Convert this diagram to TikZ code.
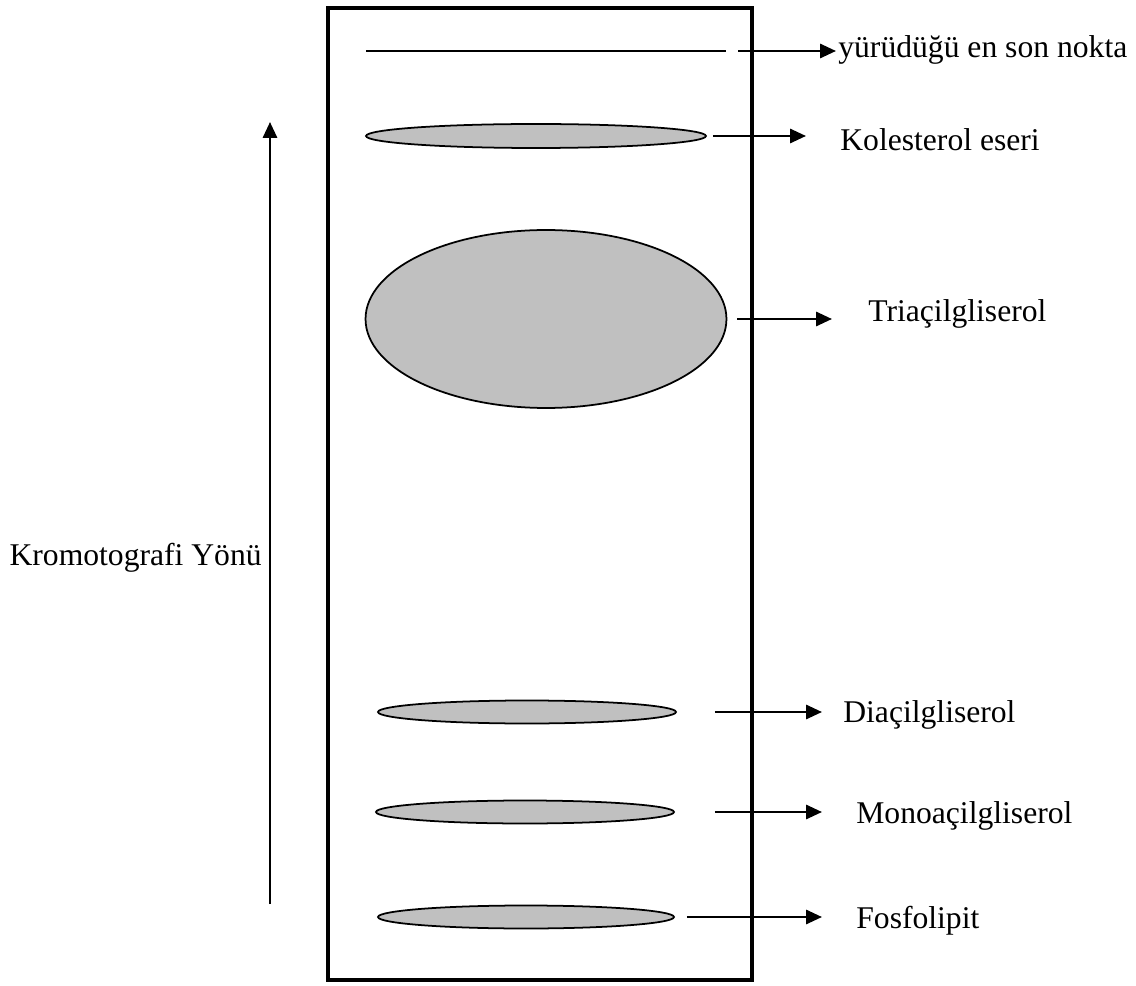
\documentclass[tikz,border=0pt]{standalone}
\usepackage{fontspec}
\setmainfont{Liberation Serif}
\usetikzlibrary{arrows.meta,shapes.geometric}
\definecolor{spotgray}{RGB}{192,192,192}

\begin{document}
\begin{tikzpicture}[
      x=0.02cm,y=-0.02cm,
      >={Triangle[length=9pt,width=8pt]},
      spot/.style={
        draw,ellipse,fill=spotgray,line width=1pt,inner sep=0pt
      },
      lbl/.style={anchor=base west,inner sep=0pt,font=\fontsize{18}{22}\selectfont},
      link/.style={line width=1.4pt,->},
    ]
    \useasboundingbox (0,0) rectangle (1136,986);
    % plate
    \draw[line width=2.1pt] (328,8) rectangle (752,980);
    % solvent front
    \coordinate (fl) at (366,51);
    \coordinate (fr) at (726,51);
    \draw[line width=1.1pt] (fl) -- (fr);
    % spots
    \node[spot,minimum width=6.8cm,minimum height=0.48cm] (kol) at (536,136) {};
    \node[spot,minimum width=7.22cm,minimum height=3.56cm] (tri) at (546,319) {};
    \node[spot,minimum width=5.96cm,minimum height=0.46cm] (dia) at (527,712) {};
    \node[spot,minimum width=5.96cm,minimum height=0.46cm] (mono) at (525,812) {};
    \node[spot,minimum width=5.92cm,minimum height=0.46cm] (fos) at (526,917) {};
    % labels
    \node[lbl] (front) at (838,58) {yürüdüğü en son nokta};
    \node[lbl] (kolt) at (840,151) {Kolesterol eseri};
    \node[lbl] (trit) at (868,322) {Triaçilgliserol};
    \node[lbl] (diat) at (843,722) {Diaçilgliserol};
    \node[lbl] (monot) at (856,823) {Monoaçilgliserol};
    \node[lbl] (fost) at (856,928) {Fosfolipit};
    \node[lbl,anchor=base east] (dir) at (262,565) {Kromotografi Yönü};
    % arrow ends
    \coordinate (frontend) at (836,51);
    \coordinate (kolend) at (806,136);
    \coordinate (triend) at (832,319);
    \coordinate (diaend) at (822,712);
    \coordinate (monoend) at (822,812);
    \coordinate (fosend) at (822,917);
    \coordinate (dirlow) at (270,904);
    \coordinate (dirhigh) at (270,122);
    \draw[link,shorten <=0.24cm] (fr) -- (frontend);
    \draw[link,shorten <=0.12cm] (kol.east) -- (kolend);
    \draw[link,shorten <=0.2cm] (tri.east) -- (triend);
    \draw[link,shorten <=0.76cm] (dia.east) -- (diaend);
    \draw[link,shorten <=0.8cm] (mono.east) -- (monoend);
    \draw[link,shorten <=0.24cm] (fos.east) -- (fosend);
    \draw[link] (dirlow) -- (dirhigh);
  \end{tikzpicture}
\end{document}
